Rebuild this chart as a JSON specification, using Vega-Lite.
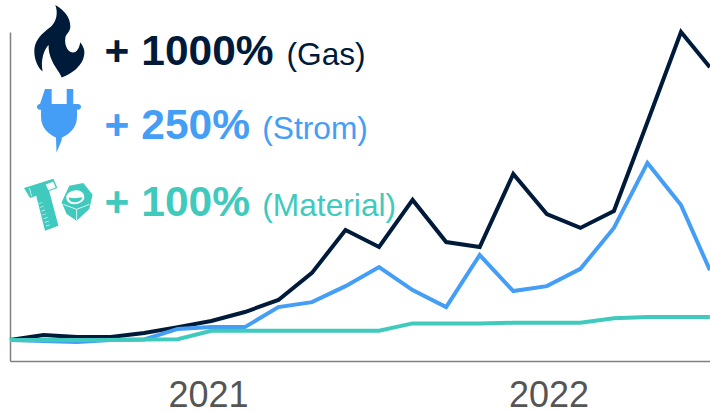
{"$schema":"https://vega.github.io/schema/vega-lite/v6.json","width":700,"height":329,"autosize":{"type":"none"},"padding":{"left":10,"top":32,"right":0,"bottom":51},"background":"white","config":{"view":{"stroke":null},"font":"Liberation Sans"},
"datasets":{"series":[
{"t":0,"s":"Gas","v":0},{"t":1,"s":"Gas","v":16},{"t":2,"s":"Gas","v":10},{"t":3,"s":"Gas","v":10},{"t":4,"s":"Gas","v":23},{"t":5,"s":"Gas","v":42},{"t":6,"s":"Gas","v":62},{"t":7,"s":"Gas","v":91},{"t":8,"s":"Gas","v":130},{"t":9,"s":"Gas","v":218},{"t":10,"s":"Gas","v":357},{"t":11,"s":"Gas","v":302},{"t":12,"s":"Gas","v":455},{"t":13,"s":"Gas","v":318},{"t":14,"s":"Gas","v":302},{"t":15,"s":"Gas","v":539},{"t":16,"s":"Gas","v":409},{"t":17,"s":"Gas","v":364},{"t":18,"s":"Gas","v":419},{"t":19,"s":"Gas","v":708},{"t":20,"s":"Gas","v":1000},{"t":20.86,"s":"Gas","v":886},
{"t":0,"s":"Strom","v":0},{"t":1,"s":"Strom","v":-3},{"t":2,"s":"Strom","v":-6},{"t":3,"s":"Strom","v":0},{"t":4,"s":"Strom","v":2},{"t":5,"s":"Strom","v":36},{"t":6,"s":"Strom","v":42},{"t":7,"s":"Strom","v":42},{"t":8,"s":"Strom","v":107},{"t":9,"s":"Strom","v":123},{"t":10,"s":"Strom","v":175},{"t":11,"s":"Strom","v":237},{"t":12,"s":"Strom","v":162},{"t":13,"s":"Strom","v":107},{"t":14,"s":"Strom","v":276},{"t":15,"s":"Strom","v":159},{"t":16,"s":"Strom","v":175},{"t":17,"s":"Strom","v":231},{"t":18,"s":"Strom","v":364},{"t":19,"s":"Strom","v":575},{"t":20,"s":"Strom","v":438},{"t":20.86,"s":"Strom","v":227},
{"t":0,"s":"Material","v":0},{"t":1,"s":"Material","v":0},{"t":2,"s":"Material","v":0},{"t":3,"s":"Material","v":0},{"t":4,"s":"Material","v":2},{"t":5,"s":"Material","v":3},{"t":6,"s":"Material","v":30},{"t":7,"s":"Material","v":30},{"t":8,"s":"Material","v":30},{"t":9,"s":"Material","v":30},{"t":10,"s":"Material","v":30},{"t":11,"s":"Material","v":30},{"t":12,"s":"Material","v":54},{"t":13,"s":"Material","v":54},{"t":14,"s":"Material","v":54},{"t":15,"s":"Material","v":56},{"t":16,"s":"Material","v":56},{"t":17,"s":"Material","v":56},{"t":18,"s":"Material","v":71},{"t":19,"s":"Material","v":75},{"t":20,"s":"Material","v":75},{"t":20.86,"s":"Material","v":75}
]},
"data":{"name":"series"},
"layer":[
{"mark":{"type":"line","strokeWidth":4,"strokeJoin":"miter","strokeCap":"butt","clip":false},
"encoding":{
"x":{"field":"t","type":"quantitative","scale":{"domain":[0,20.864],"nice":false,"zero":false},"axis":{"values":[5.9,16.05],"labelExpr":"datum.value < 10 ? '2021' : '2022'","title":null,"grid":false,"ticks":false,"labelFontSize":36,"labelColor":"#555555","labelFont":"Liberation Sans","labelPadding":17,"labelFlush":false,"labelOverlap":false,"domainColor":"#808080","domainWidth":1.5}},
"y":{"field":"v","type":"quantitative","scale":{"domain":[-68,1000],"nice":false,"zero":false},"axis":{"labels":false,"ticks":false,"title":null,"grid":false,"domainColor":"#808080","domainWidth":1.5}},
"color":{"field":"s","type":"nominal","sort":null,"scale":{"domain":["Gas","Strom","Material"],"range":["#001a3a","#459ef5","#3fcabd"]},"legend":null}}},
{"data":{"values":[{"s":"Gas","big":"+ 1000%"}]},"mark":{"type":"text","align":"left","baseline":"alphabetic","fontSize":42.5,"fontWeight":"bold"},"encoding":{"x":{"datum":2.82},"y":{"datum":893},"text":{"field":"big"},"color":{"field":"s","type":"nominal"}}},
{"data":{"values":[{"s":"Gas","small":"(Gas)"}]},"mark":{"type":"text","align":"left","baseline":"alphabetic","fontSize":31.7},"encoding":{"x":{"datum":8.24},"y":{"datum":893},"text":{"field":"small"},"color":{"field":"s","type":"nominal"}}},
{"data":{"values":[{"s":"Strom","big":"+ 250%"}]},"mark":{"type":"text","align":"left","baseline":"alphabetic","fontSize":42.5,"fontWeight":"bold"},"encoding":{"x":{"datum":2.82},"y":{"datum":653},"text":{"field":"big"},"color":{"field":"s","type":"nominal"}}},
{"data":{"values":[{"s":"Strom","small":"(Strom)"}]},"mark":{"type":"text","align":"left","baseline":"alphabetic","fontSize":31.7},"encoding":{"x":{"datum":7.52},"y":{"datum":653},"text":{"field":"small"},"color":{"field":"s","type":"nominal"}}},
{"data":{"values":[{"s":"Material","big":"+ 100%"}]},"mark":{"type":"text","align":"left","baseline":"alphabetic","fontSize":42.5,"fontWeight":"bold"},"encoding":{"x":{"datum":2.82},"y":{"datum":403},"text":{"field":"big"},"color":{"field":"s","type":"nominal"}}},
{"data":{"values":[{"s":"Material","small":"(Material)"}]},"mark":{"type":"text","align":"left","baseline":"alphabetic","fontSize":31.7},"encoding":{"x":{"datum":7.52},"y":{"datum":403},"text":{"field":"small"},"color":{"field":"s","type":"nominal"}}},
{"data":{"values":[{"s":"Gas","icon":"flame"}]},"mark":{"type":"point","filled":true,"opacity":1,"size":4,"strokeWidth":0,"shape":"M-4,-36.3 C5,-31 11,-24 11,-14.7 C11,-9 6,-7 6,-3 C5,3 8,11 13.3,11.3 C18,11.5 20,6 21,1 C24,5 25.5,9 25,12 C24.5,24 12,33 2.3,36.3 C0,30 -4,27 -7,20 C-10,14 -11,8 -10.7,3.7 C-15,8 -19,18 -16.7,30.3 C-21,27 -25,19 -25,10 C-25,-3 -14,-10 -8,-15 C-3,-20 -1,-28 -4,-36.3 Z"},"encoding":{"x":{"datum":1.47},"y":{"datum":970},"color":{"field":"s","type":"nominal"}}},
{"data":{"values":[{"s":"Strom","icon":"plug"}]},"mark":{"type":"point","filled":true,"opacity":1,"size":4,"strokeWidth":0,"shape":"M-14,-31.7 L-7.3,-31.7 L-7.3,-16.7 L7.7,-16.7 L7.7,-31.7 L14.3,-31.7 L14.3,-16.7 L19,-16.7 C23,-16.7 23,-11 19,-11 L18,-11 L18,-4 C18,7 10,14 3,16.7 L2.5,20 L-2.5,31.7 L-3,16.7 C-10,14 -18,7 -18,-4 L-18,-11 L-19,-11 C-23,-11 -23,-16.7 -19,-16.7 Z"},"encoding":{"x":{"datum":1.46},"y":{"datum":712},"color":{"field":"s","type":"nominal"}}},
{"data":{"values":[{"s":"Material","icon":"bolt"}]},"mark":{"type":"point","filled":true,"opacity":1,"size":4,"strokeWidth":0,"shape":"M-16.7,-16.7 L12.7,-26 L16.7,-16.7 L8.5,-13.7 L17.7,21 L4.3,26 L-4.5,-9 L-10.7,-6.7 Z M5,-20.3 L7.7,-14.6 L15,-17.2 L12.4,-23 Z M-11.5,-16.5 L-9.5,-8.5 L-8.9,-8.7 L-10.9,-16.7 Z M-2.3,-1.3 L-2.3,-0.7 L1.7,-2 L1.7,-2.6 Z M-1,2.4 L-1,3 L3,1.7 L3,1.1 Z M0.3,6.1 L0.3,6.7 L4.3,5.4 L4.3,4.8 Z M1.5,9.9 L1.5,10.5 L5.5,9.2 L5.5,8.6 Z M2.8,13.6 L2.8,14.2 L6.8,12.9 L6.8,12.3 Z M4,17.3 L4,17.9 L8,16.6 L8,16 Z M5.3,21 L5.3,21.6 L9.3,20.3 L9.3,19.7 Z"},"encoding":{"x":{"datum":0.915},"y":{"datum":439},"color":{"field":"s","type":"nominal"}}},
{"data":{"values":[{"s":"Material","icon":"nut"}]},"mark":{"type":"point","filled":true,"opacity":1,"size":4,"strokeWidth":0,"shape":"M-8,-16.7 L6,-19.3 L15.3,-7.7 L12,6.7 L-0.7,18.3 L-10.7,11.7 L-15.7,0 Z M-11,-5 C-11,-1 -8,2 -3,2 C2,2 7,-1 7,-5 C7,-9 4,-12 -1,-12 C-6,-12 -11,-9 -11,-5 Z M-8.5,-5 C-3,-3 2,-5 5,-5 C5,-2 1,0 -3,0 C-6,0 -8.5,-2 -8.5,-5 Z"},"encoding":{"x":{"datum":2.006},"y":{"datum":447},"color":{"field":"s","type":"nominal"}}},
{"data":{"values":[{"s":"Material","icon":"nut facets"}]},"mark":{"type":"point","filled":false,"opacity":1,"size":4,"strokeWidth":0.8,"color":"white","shape":"M-14,2 L-0.7,7 L12,2 M-0.7,7 L-0.7,18"},"encoding":{"x":{"datum":2.006},"y":{"datum":447}}}
]}
